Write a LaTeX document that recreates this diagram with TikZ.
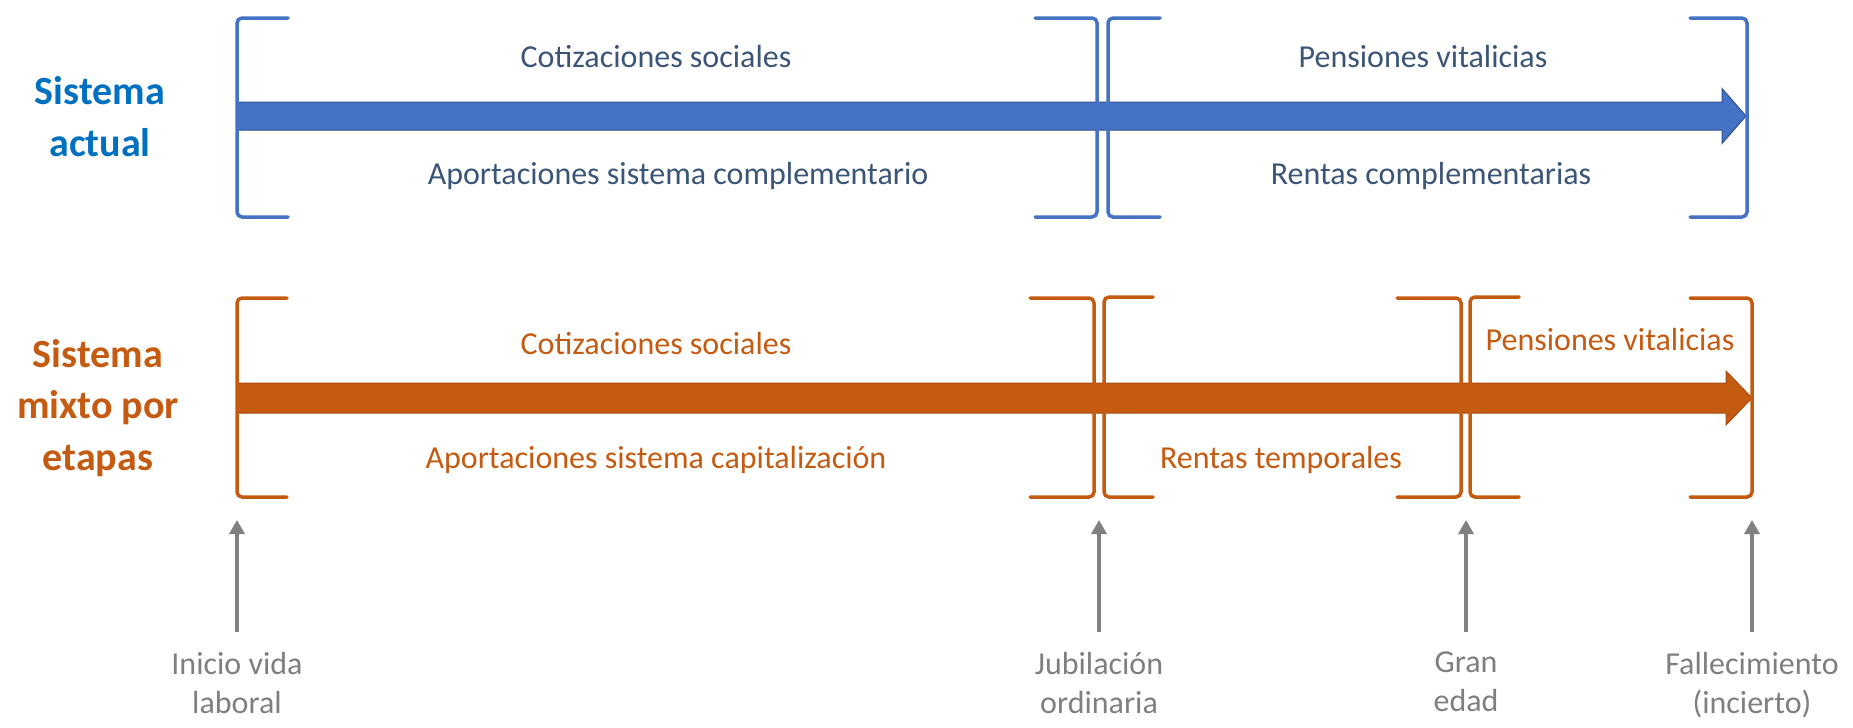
\documentclass[tikz,border=0pt]{standalone}
\usepackage{fontspec}
\setmainfont{Carlito}
\usetikzlibrary{arrows.meta}
\definecolor{bl}{HTML}{4472C4}
\definecolor{bldark}{HTML}{2F528F}
\definecolor{bltext}{HTML}{3B5578}
\definecolor{blhead}{HTML}{0070C0}
\definecolor{org}{HTML}{C55A11}
\definecolor{orgdark}{HTML}{A84C0E}
\definecolor{gr}{HTML}{808080}
\definecolor{grtext}{HTML}{7F7F7F}
\tikzset{
  bbrack/.style={draw=bl, line width=3.5pt, rounded corners=5pt, line cap=round},
  obrack/.style={draw=org, line width=3.5pt, rounded corners=5pt, line cap=round},
  btxt/.style={text=bltext, font=\fontsize{32}{39}\selectfont, inner sep=0pt},
  otxt/.style={text=org, font=\fontsize{32}{39}\selectfont, inner sep=0pt},
  head/.style={font=\bfseries\fontsize{40}{52}\selectfont, align=center, inner sep=0pt},
  glabel/.style={text=grtext, font=\fontsize{32}{39}\selectfont, align=center, anchor=north, inner xsep=0pt, inner ysep=20pt},
  garrow/.style={draw=gr, line width=4pt, -{Triangle[width=15pt,length=14pt]}},
}
\begin{document}
\begin{tikzpicture}[x=1pt,y=-1pt]
\useasboundingbox (0,0) rectangle (1853,728);

% ---------- Sistema actual ----------
\node[head, text=blhead] (h1) at (100,116.5) {Sistema\\actual};

\filldraw[fill=bl, draw=bldark, line width=1pt]
  (237,102) -- (1722,102) -- (1722,88.5) -- (1746,116) -- (1722,143.5) -- (1722,130) -- (237,130) -- cycle;

\draw[bbrack] (288,18) -- (237,18) -- (237,217) -- (288,217);
\draw[bbrack] (1035,18) -- (1097,18) -- (1097,217) -- (1035,217);
\draw[bbrack] (1160,18) -- (1108,18) -- (1108,217) -- (1160,217);
\draw[bbrack] (1690,18) -- (1747,18) -- (1747,217) -- (1690,217);

\node[btxt] (b1) at (656,57) {Cotizaciones sociales};
\node[btxt] (b2) at (678,176) {Aportaciones sistema complementario};
\node[btxt] (b3) at (1423,57) {Pensiones vitalicias};
\node[btxt] (b4) at (1431,176) {Rentas complementarias};

% ---------- Sistema mixto ----------
\node[head, text=org, font=\bfseries\fontsize{40}{51.5}\selectfont] (h2) at (98,408) {Sistema\\mixto por\\etapas};

\filldraw[fill=org, draw=orgdark, line width=1pt]
  (237,383) -- (1726,383) -- (1726,371) -- (1752,398) -- (1726,425) -- (1726,413) -- (237,413) -- cycle;

\draw[obrack] (287,298) -- (237,298) -- (237,497) -- (287,497);
\draw[obrack] (1030,298) -- (1094,298) -- (1094,497) -- (1030,497);
\draw[obrack] (1153,297) -- (1104,297) -- (1104,497) -- (1153,497);
\draw[obrack] (1397,298) -- (1461,298) -- (1461,497) -- (1397,497);
\draw[obrack] (1519,297) -- (1470,297) -- (1470,497) -- (1519,497);
\draw[obrack] (1690,298) -- (1752,298) -- (1752,497) -- (1690,497);

\node[otxt] (o1) at (656,344) {Cotizaciones sociales};
\node[otxt] (o2) at (656,460) {Aportaciones sistema capitalización};
\node[otxt] (o3) at (1281,460) {Rentas temporales};
\node[otxt] (o4) at (1610,340) {Pensiones vitalicias};

% ---------- Hitos ----------
\coordinate (t1) at (237,520);
\coordinate (t2) at (1099,520);
\coordinate (t3) at (1466,520);
\coordinate (t4) at (1752,520);

\node[glabel] (l1) at (237,632) {Inicio vida\\laboral};
\node[glabel] (l2) at (1099,632) {Jubilación\\ordinaria};
\node[glabel] (l3) at (1466,632) {Gran\\edad};
\node[glabel] (l4) at (1752,632) {Fallecimiento\\(incierto)};

\draw[garrow] (l1) -- (t1);
\draw[garrow] (l2) -- (t2);
\draw[garrow] (l3) -- (t3);
\draw[garrow] (l4) -- (t4);
\end{tikzpicture}
\end{document}
